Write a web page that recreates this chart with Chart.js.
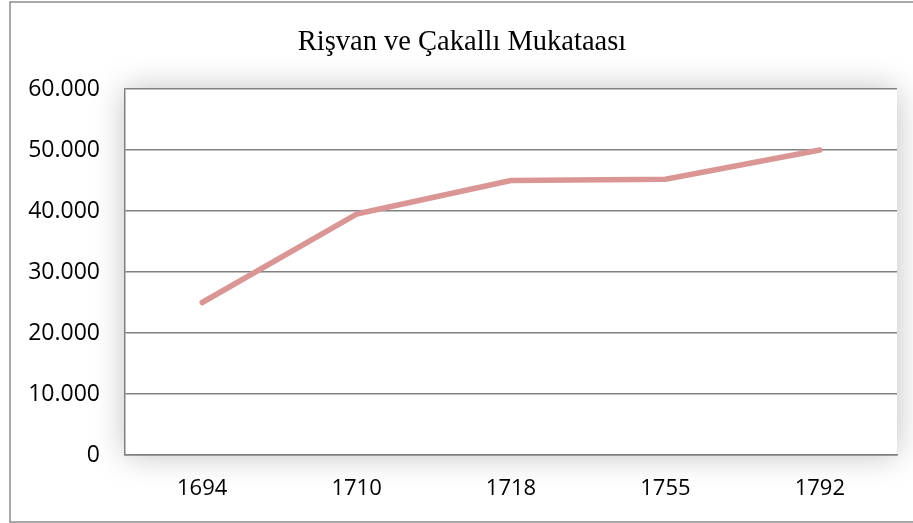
<!DOCTYPE html>
<html>
<head>
<meta charset="utf-8">
<script src="https://cdn.jsdelivr.net/npm/chart.js@4/dist/chart.umd.min.js"></script>
<style>
  html, body { margin: 0; padding: 0; background: #fff; }
  #wrap { position: relative; width: 913px; height: 523px; }
</style>
</head>
<body>
<div id="wrap"><canvas id="lineChart" width="913" height="523"></canvas></div>
<script>
// ==== DATA ====
const years = ["1694", "1710", "1718", "1755", "1792"];
const values = [25000, 39500, 45000, 45200, 50000];
const yTicks = [0, 10000, 20000, 30000, 40000, 50000, 60000];
const chartTitle = "Rişvan ve Çakallı Mukataası";

function formatDots(v) {
  return String(v).replace(/\B(?=(\d{3})+(?!\d))/g, ".");
}

// frame + soft shadow behind the plot area
const framePlugin = {
  id: "frame",
  beforeDraw(chart) {
    const ctx = chart.ctx;
    const a = chart.chartArea;
    ctx.save();
    ctx.fillStyle = "#fff";
    ctx.fillRect(0, 0, chart.width, chart.height);
    ctx.shadowColor = "rgba(0,0,0,0.25)";
    ctx.shadowBlur = 30;
    ctx.fillRect(a.left, a.top, a.right - a.left, a.bottom - a.top);
    ctx.restore();
    ctx.save();
    ctx.strokeStyle = "#8c8c8c";
    ctx.lineWidth = 1.5;
    ctx.strokeRect(10, 2, chart.width + 20, chart.height - 3);
    ctx.restore();
  },
  afterDraw(chart) {
    // title, centred over the framed area
    const ctx = chart.ctx;
    ctx.save();
    ctx.fillStyle = "#000";
    ctx.font = "28.5px 'Liberation Serif', 'Times New Roman', serif";
    ctx.textAlign = "center";
    ctx.textBaseline = "middle";
    ctx.fillText(chartTitle, 462, 43);
    ctx.restore();
  }
};

const lineCanvas = document.getElementById("lineChart");
new Chart(lineCanvas.getContext("2d"), {
  type: "line",
  data: {
    labels: years,
    datasets: [
      {
        label: "Rişvan ve Çakallı",
        data: values,
        borderColor: "#D99694",
        borderWidth: 5.5,
        borderCapStyle: "round",
        borderJoinStyle: "round",
        pointRadius: 0,
        tension: 0,
        fill: false,
      },
    ],
  },
  options: {
    responsive: false,
    animation: false,
    layout: { padding: { left: 10, top: 89, right: 16, bottom: 0 } },
    plugins: {
      legend: { display: false },
      tooltip: { enabled: false },
      title: { display: false },
    },
    scales: {
      x: {
        offset: true,
        grid: { display: false, drawTicks: false },
        border: { display: true, color: "#808080", width: 1.5 },
        ticks: {
          color: "#000",
          padding: 23,
          font: { family: "'Open Sans', sans-serif", size: 22, lineHeight: 1 },
        },
      },
      y: {
        min: 0,
        max: 60000,
        afterBuildTicks(scale) {
          scale.ticks = yTicks.map((v) => ({ value: v }));
        },
        afterFit(scale) {
          scale.width = 115;
        },
        grid: { color: "#808080", lineWidth: 1.5, drawTicks: false },
        border: { display: true, color: "#808080", width: 1.5 },
        ticks: {
          color: "#000",
          padding: 25,
          font: { family: "'Open Sans', sans-serif", size: 23 },
          callback: (v) => formatDots(v),
        },
      },
    },
  },
  plugins: [framePlugin],
});
</script>
</body>
</html>
